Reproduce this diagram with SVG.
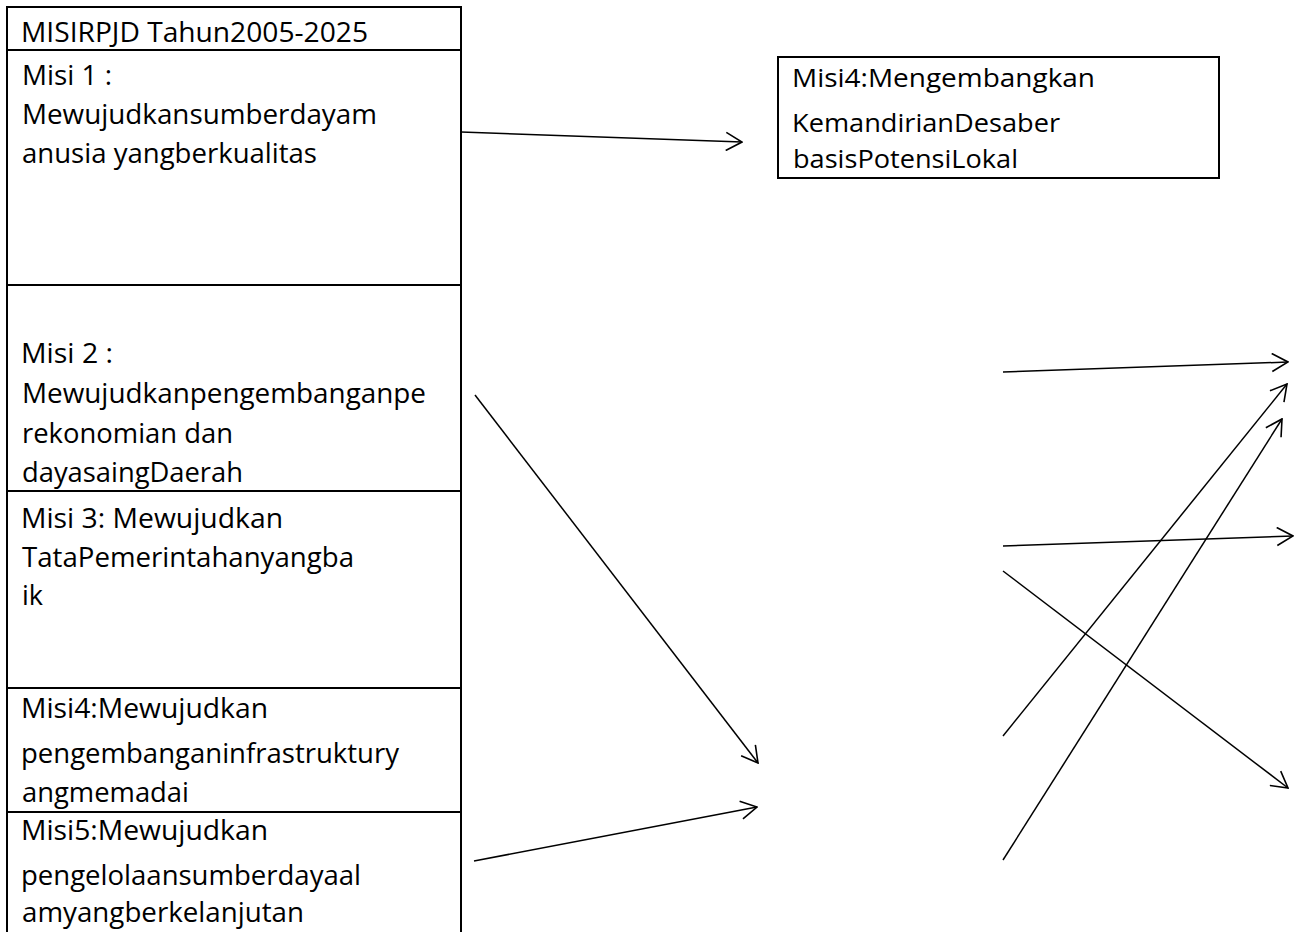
<svg xmlns="http://www.w3.org/2000/svg" width="1301" height="932" viewBox="0 0 1301 932">
<style>
.cell{fill:#fff;stroke:#000;stroke-width:2}
.t{font-family:"Open Sans","Noto Sans","Liberation Sans",sans-serif;font-size:28px;fill:#000}
.tb{font-family:"Open Sans","Noto Sans","Liberation Sans",sans-serif;font-size:25px;fill:#000}
.c{stroke:#000;stroke-width:1.5;fill:none;marker-end:url(#ah)}
</style>
<defs>
<marker id="ah" viewBox="0 0 18 20" refX="17" refY="10" markerWidth="18" markerHeight="20" markerUnits="userSpaceOnUse" orient="auto">
<path d="M1,1 L17,10 L1,19" fill="none" stroke="#000" stroke-width="1.6"/>
</marker>
</defs>
<rect width="1301" height="932" fill="#fff"/>
<g id="header">
<rect class="cell" x="7" y="7" width="454" height="43"/>
<text class="t" x="21" y="42" textLength="347" lengthAdjust="spacingAndGlyphs">MISIRPJD Tahun2005-2025</text>
</g>
<g id="misi1">
<rect class="cell" x="7" y="50" width="454" height="235"/>
<text class="t" x="22" y="85" textLength="90" lengthAdjust="spacingAndGlyphs">Misi 1 :</text>
<text class="t" x="22" y="124" textLength="355" lengthAdjust="spacingAndGlyphs">Mewujudkansumberdayam</text>
<text class="t" x="22" y="163" textLength="295" lengthAdjust="spacingAndGlyphs">anusia yangberkualitas</text>
</g>
<g id="misi2">
<rect class="cell" x="7" y="285" width="454" height="206"/>
<text class="t" x="21" y="363" textLength="92" lengthAdjust="spacingAndGlyphs">Misi 2 :</text>
<text class="t" x="22" y="403" textLength="404" lengthAdjust="spacingAndGlyphs">Mewujudkanpengembanganpe</text>
<text class="t" x="22" y="443" textLength="211" lengthAdjust="spacingAndGlyphs">rekonomian dan</text>
<text class="t" x="22" y="482" textLength="221" lengthAdjust="spacingAndGlyphs">dayasaingDaerah</text>
</g>
<g id="misi3">
<rect class="cell" x="7" y="491" width="454" height="197"/>
<text class="t" x="21" y="528" textLength="262" lengthAdjust="spacingAndGlyphs">Misi 3: Mewujudkan</text>
<text class="t" x="22" y="567" textLength="332" lengthAdjust="spacingAndGlyphs">TataPemerintahanyangba</text>
<text class="t" x="22" y="605" textLength="21" lengthAdjust="spacingAndGlyphs">ik</text>
</g>
<g id="misi4">
<rect class="cell" x="7" y="688" width="454" height="124"/>
<text class="t" x="21" y="718" textLength="247" lengthAdjust="spacingAndGlyphs">Misi4:Mewujudkan</text>
<text class="t" x="21" y="763" textLength="378" lengthAdjust="spacingAndGlyphs">pengembanganinfrastruktury</text>
<text class="t" x="22" y="802" textLength="167" lengthAdjust="spacingAndGlyphs">angmemadai</text>
</g>
<g id="misi5">
<rect class="cell" x="7" y="812" width="454" height="140"/>
<text class="t" x="21" y="840" textLength="247" lengthAdjust="spacingAndGlyphs">Misi5:Mewujudkan</text>
<text class="t" x="21" y="885" textLength="340" lengthAdjust="spacingAndGlyphs">pengelolaansumberdayaal</text>
<text class="t" x="22" y="922" textLength="282" lengthAdjust="spacingAndGlyphs">amyangberkelanjutan</text>
</g>
<g id="misi4-desa">
<rect class="cell" x="778" y="57" width="441" height="121"/>
<text class="tb" x="792" y="87" textLength="303" lengthAdjust="spacingAndGlyphs">Misi4:Mengembangkan</text>
<text class="tb" x="792" y="132" textLength="268" lengthAdjust="spacingAndGlyphs">KemandirianDesaber</text>
<text class="tb" x="793" y="168" textLength="225" lengthAdjust="spacingAndGlyphs">basisPotensiLokal</text>
</g>
<g id="connectors">
<line class="c" x1="461" y1="132" x2="742" y2="142"/>
<line class="c" x1="475" y1="395" x2="758" y2="763"/>
<line class="c" x1="474" y1="861" x2="757" y2="807"/>
<line class="c" x1="1003" y1="372" x2="1288" y2="362"/>
<line class="c" x1="1003" y1="736" x2="1287" y2="384"/>
<line class="c" x1="1003" y1="860" x2="1282" y2="419"/>
<line class="c" x1="1003" y1="546" x2="1293" y2="536"/>
<line class="c" x1="1003" y1="571" x2="1288" y2="788"/>
</g>
</svg>
